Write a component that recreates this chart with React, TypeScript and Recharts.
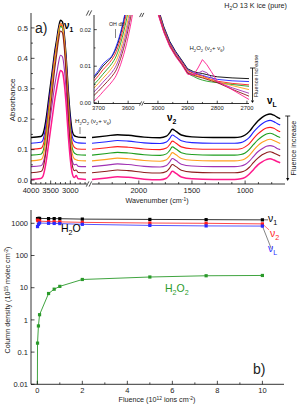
import React from "react";
import { LineChart, Line, XAxis, YAxis, ReferenceLine } from "recharts";

const FONT = "'Liberation Sans', Arial, Helvetica, sans-serif";
const INK = "#222";

// ---- panel a) main spectra, OH stretch side (cm-1) ----
const waveHi = [4000, 3750, 3700, 3650, 3600, 3550, 3500, 3450, 3400, 3350, 3300, 3250, 3200, 3150, 3100, 3050, 3000, 2950, 2900, 2850, 2800, 2600];
const blackHi = [0.140, 0.143, 0.150, 0.175, 0.216, 0.267, 0.317, 0.368, 0.419, 0.459, 0.500, 0.525, 0.520, 0.474, 0.393, 0.292, 0.211, 0.160, 0.146, 0.143, 0.141, 0.140];
const blueHi = [0.121, 0.124, 0.131, 0.157, 0.199, 0.251, 0.303, 0.354, 0.406, 0.448, 0.489, 0.515, 0.510, 0.463, 0.380, 0.277, 0.193, 0.142, 0.127, 0.124, 0.122, 0.121];
const redHi = [0.101, 0.104, 0.112, 0.139, 0.182, 0.236, 0.290, 0.343, 0.397, 0.440, 0.483, 0.510, 0.505, 0.456, 0.370, 0.263, 0.176, 0.123, 0.108, 0.104, 0.102, 0.101];
const greenHi = [0.082, 0.085, 0.093, 0.121, 0.165, 0.221, 0.277, 0.332, 0.388, 0.433, 0.477, 0.505, 0.500, 0.449, 0.360, 0.249, 0.160, 0.104, 0.089, 0.085, 0.083, 0.082];
const orangeHi = [0.063, 0.067, 0.075, 0.105, 0.152, 0.212, 0.271, 0.331, 0.390, 0.438, 0.485, 0.515, 0.509, 0.455, 0.360, 0.242, 0.146, 0.087, 0.070, 0.067, 0.064, 0.063];
const purpleHi = [0.044, 0.047, 0.054, 0.078, 0.116, 0.164, 0.213, 0.261, 0.309, 0.347, 0.386, 0.410, 0.405, 0.362, 0.285, 0.189, 0.111, 0.063, 0.050, 0.052, 0.045, 0.044];
const brownHi = [0.024, 0.028, 0.036, 0.067, 0.116, 0.177, 0.239, 0.300, 0.361, 0.410, 0.459, 0.490, 0.484, 0.428, 0.331, 0.208, 0.110, 0.049, 0.031, 0.033, 0.025, 0.024];
const pinkHi = [0.002, 0.005, 0.011, 0.035, 0.073, 0.120, 0.167, 0.214, 0.261, 0.299, 0.336, 0.360, 0.355, 0.313, 0.238, 0.143, 0.068, 0.021, 0.008, 0.015, 0.004, 0.002];

// ---- panel a) main spectra, bending / libration side ----
const waveLo = [2440, 2300, 2200, 2100, 1950, 1800, 1740, 1710, 1685, 1650, 1600, 1500, 1300, 1100, 1040, 1000, 960, 920, 880, 840, 800, 766, 730, 700, 670];
const blackLo = [0.140, 0.145, 0.149, 0.147, 0.141, 0.139, 0.144, 0.155, 0.167, 0.160, 0.148, 0.142, 0.140, 0.140, 0.142, 0.148, 0.160, 0.178, 0.194, 0.206, 0.214, 0.217, 0.213, 0.207, 0.202];
const blueLo = [0.121, 0.126, 0.130, 0.128, 0.122, 0.120, 0.125, 0.136, 0.148, 0.141, 0.129, 0.123, 0.121, 0.121, 0.123, 0.129, 0.140, 0.158, 0.173, 0.185, 0.193, 0.196, 0.192, 0.186, 0.181];
const redLo = [0.101, 0.106, 0.110, 0.108, 0.102, 0.100, 0.105, 0.116, 0.128, 0.121, 0.109, 0.103, 0.101, 0.101, 0.103, 0.109, 0.120, 0.137, 0.152, 0.163, 0.171, 0.173, 0.170, 0.164, 0.159];
const greenLo = [0.082, 0.087, 0.091, 0.089, 0.083, 0.081, 0.086, 0.097, 0.109, 0.102, 0.090, 0.084, 0.082, 0.082, 0.084, 0.089, 0.101, 0.117, 0.132, 0.143, 0.151, 0.154, 0.150, 0.144, 0.140];
const orangeLo = [0.063, 0.068, 0.072, 0.070, 0.064, 0.062, 0.067, 0.078, 0.090, 0.083, 0.071, 0.065, 0.063, 0.063, 0.065, 0.070, 0.081, 0.098, 0.113, 0.124, 0.131, 0.134, 0.130, 0.125, 0.120];
const purpleLo = [0.044, 0.049, 0.053, 0.051, 0.045, 0.043, 0.048, 0.059, 0.071, 0.064, 0.052, 0.046, 0.044, 0.044, 0.046, 0.051, 0.062, 0.078, 0.093, 0.103, 0.111, 0.113, 0.110, 0.104, 0.100];
const brownLo = [0.024, 0.029, 0.033, 0.031, 0.025, 0.023, 0.028, 0.039, 0.051, 0.044, 0.032, 0.026, 0.024, 0.024, 0.026, 0.031, 0.042, 0.058, 0.072, 0.083, 0.090, 0.093, 0.089, 0.084, 0.079];
const pinkLo = [0.002, 0.007, 0.011, 0.009, 0.003, 0.001, 0.006, 0.017, 0.029, 0.022, 0.010, 0.004, 0.002, 0.002, 0.004, 0.009, 0.020, 0.035, 0.050, 0.060, 0.067, 0.070, 0.066, 0.061, 0.057];

// ---- inset (zoom on 3700-2700 cm-1) ----
const insetWaveL = [3715, 3700, 3685, 3670, 3655, 3640, 3620, 3600, 3580, 3560];
const blackInL = [0.0068, 0.0083, 0.0100, 0.0112, 0.0126, 0.0150, 0.0205, 0.0285, 0.039, 0.054];
const blueInL = [0.0072, 0.0088, 0.0106, 0.0117, 0.0128, 0.0155, 0.0210, 0.0290, 0.040, 0.055];
const redInL = [0.0060, 0.0074, 0.0090, 0.0103, 0.0118, 0.0140, 0.0192, 0.0270, 0.037, 0.052];
const greenInL = [0.0050, 0.0063, 0.0078, 0.0092, 0.0107, 0.0128, 0.0178, 0.0250, 0.035, 0.050];
const orangeInL = [0.0040, 0.0053, 0.0067, 0.0080, 0.0095, 0.0115, 0.0162, 0.0230, 0.033, 0.048];
const purpleInL = [0.0030, 0.0042, 0.0056, 0.0069, 0.0083, 0.0102, 0.0148, 0.0215, 0.031, 0.046];
const brownInL = [0.0020, 0.0032, 0.0045, 0.0058, 0.0072, 0.0090, 0.0135, 0.0200, 0.029, 0.044];
const pinkInL = [0.0005, 0.0016, 0.0030, 0.0043, 0.0057, 0.0075, 0.0118, 0.0180, 0.027, 0.041];

const insetWaveR = [3047, 3020, 3000, 2980, 2960, 2940, 2920, 2900, 2880, 2865, 2850, 2835, 2820, 2800, 2750, 2693];
const blackInR = [0.050, 0.033, 0.026, 0.0208, 0.0168, 0.0140, 0.0117, 0.0093, 0.0085, 0.0082, 0.0080, 0.0077, 0.0074, 0.0071, 0.0068, 0.0066];
const blueInR = [0.050, 0.033, 0.0258, 0.0205, 0.0165, 0.0137, 0.0114, 0.0090, 0.0082, 0.0078, 0.0075, 0.0071, 0.0068, 0.0064, 0.0060, 0.0058];
const redInR = [0.049, 0.0325, 0.0255, 0.0202, 0.0162, 0.0134, 0.0112, 0.0088, 0.0080, 0.0076, 0.0073, 0.0068, 0.0064, 0.0059, 0.0053, 0.0049];
const greenInR = [0.049, 0.032, 0.025, 0.0198, 0.0158, 0.0130, 0.0107, 0.0080, 0.0072, 0.0066, 0.0062, 0.0059, 0.0057, 0.0055, 0.0050, 0.0045];
const orangeInR = [0.048, 0.032, 0.025, 0.0198, 0.0158, 0.0131, 0.0109, 0.0085, 0.0077, 0.0073, 0.0070, 0.0066, 0.0062, 0.0057, 0.0047, 0.0036];
const purpleInR = [0.048, 0.0315, 0.0248, 0.0196, 0.0157, 0.0130, 0.0108, 0.0083, 0.0077, 0.0081, 0.0087, 0.0082, 0.0070, 0.0056, 0.0041, 0.0026];
const brownInR = [0.047, 0.031, 0.0245, 0.0194, 0.0155, 0.0128, 0.0106, 0.0081, 0.0075, 0.0071, 0.0068, 0.0064, 0.0060, 0.0055, 0.0037, 0.0018];
const pinkInR = [0.047, 0.031, 0.0243, 0.0192, 0.0153, 0.0126, 0.0104, 0.0078, 0.0076, 0.0095, 0.0118, 0.0104, 0.0085, 0.0059, 0.0036, 0.0009];

// ---- panel b) column densities vs fluence ----
const fluence = [0.01, 0.05, 0.1, 0.5, 0.75, 1, 2, 5, 7.5, 10];
const colNu1 = [1400, 1420, 1420, 1400, 1400, 1390, 1350, 1320, 1300, 1280];
const colNu2 = [1250, 1180, 1170, 1130, 1120, 1110, 1070, 1020, 1000, 960];
const colNuL = [790, 930, 1020, 1000, 990, 980, 930, 860, 830, 820];
const fluenceH2O2 = [0, 0.01, 0.05, 0.1, 0.5, 0.75, 1, 2, 5, 7.5, 10];
const colH2O2 = [0.001, 0.19, 0.65, 1.45, 6.6, 9.0, 11, 18, 21.5, 23.5, 24];

const series = [
  { name: "black", color: "#000000", w: 1.4, hi: blackHi, lo: blackLo, inL: blackInL, inR: blackInR },
  { name: "blue", color: "#2222ff", w: 1.1, hi: blueHi, lo: blueLo, inL: blueInL, inR: blueInR },
  { name: "red", color: "#ff1c1c", w: 1.1, hi: redHi, lo: redLo, inL: redInL, inR: redInR },
  { name: "green", color: "#1e9e1e", w: 1.1, hi: greenHi, lo: greenLo, inL: greenInL, inR: greenInR },
  { name: "orange", color: "#ffa020", w: 1.1, hi: orangeHi, lo: orangeLo, inL: orangeInL, inR: orangeInR },
  { name: "purple", color: "#a032b4", w: 1.1, hi: purpleHi, lo: purpleLo, inL: purpleInL, inR: purpleInR },
  { name: "brown", color: "#8e1c1c", w: 1.1, hi: brownHi, lo: brownLo, inL: brownInL, inR: brownInR },
  { name: "pink", color: "#ff1a8c", w: 1.5, hi: pinkHi, lo: pinkLo, inL: pinkInL, inR: pinkInR },
];

const pts = (xs: number[], ys: number[]) => xs.map((x, i) => ({ x, y: ys[i] }));
const steps = (from: number, to: number, step: number) => {
  const out: number[] = [];
  for (let v = from; v <= to + 1e-9; v += step) out.push(Math.round(v * 10000) / 10000);
  return out;
};

const AX = { stroke: "#000", strokeWidth: 0.8 };

// inward ticks drawn by hand so that majors/minors differ
function mkTick(side: string, isMajor: (v: number) => boolean, fmt: ((v: number) => string) | null, fs: number, len: number) {
  return (p: any) => {
    const { x, y, payload } = p;
    const v = payload.value;
    const maj = isMajor(v);
    const L = maj ? len : len * 0.55;
    let ln = null;
    let tx = null;
    if (side === "bottom") {
      ln = <line x1={x} x2={x} y1={y} y2={y - L} stroke="#000" strokeWidth={0.7} />;
      if (maj && fmt) tx = <text x={x} y={y + fs + 1} textAnchor="middle" fontSize={fs} fontFamily={FONT} fill={INK}>{fmt(v)}</text>;
    } else if (side === "top") {
      ln = <line x1={x} x2={x} y1={y} y2={y + L} stroke="#000" strokeWidth={0.7} />;
    } else if (side === "left") {
      ln = <line x1={x} x2={x + L} y1={y} y2={y} stroke="#000" strokeWidth={0.7} />;
      if (maj && fmt) tx = <text x={x - 3} y={y + fs * 0.35} textAnchor="end" fontSize={fs} fontFamily={FONT} fill={INK}>{fmt(v)}</text>;
    } else {
      ln = <line x1={x} x2={x - L} y1={y} y2={y} stroke="#000" strokeWidth={0.7} />;
    }
    return <g>{ln}{tx}</g>;
  };
}

const maj500 = (v: number) => v % 500 === 0;
const maj100 = (v: number) => v % 100 === 0;
const majAbs = (v: number) => Math.round(v * 100) % 10 === 0;
const majIn = (v: number) => Math.round(v * 1000) % 10 === 0;

const ticksHiMain = steps(2625, 4000, 125);
const ticksLoMain = steps(750, 2375, 125);
const absTicks = steps(0, 0.5, 0.05);
const inTicksL = steps(3600, 3700, 50);
const inTicksR = steps(2700, 3000, 50);
const inYTicks = steps(0, 0.02, 0.005);

const axisCommon = { type: "number" as const, allowDataOverflow: true, interval: 0 as const, tickSize: 0, tickMargin: 0, tickLine: false, axisLine: AX };

function Rich({ x, y, parts, fs, fill = INK, weight, anchor = "start", transform }: any) {
  let lvl = 0;
  return (
    <text x={x} y={y} fontSize={fs} fill={fill} fontWeight={weight} textAnchor={anchor} fontFamily={FONT} transform={transform}>
      {parts.map((p: [string, number], i: number) => {
        const dy = (p[1] - lvl) * fs * 0.32;
        lvl = p[1];
        return <tspan key={i} dy={dy} fontSize={p[1] ? fs * 0.68 : fs}>{p[0]}</tspan>;
      })}
    </text>
  );
}

function SpecLines({ k, wave }: { k: "hi" | "lo" | "inL" | "inR"; wave: number[] }) {
  return null;
}

function MainLeft() {
  return (
    <LineChart width={89} height={196} margin={{ top: 13, right: 0, bottom: 0, left: 0 }}>
      <XAxis {...axisCommon} dataKey="x" domain={[2525, 4000]} reversed ticks={ticksHiMain} height={12} tick={mkTick("bottom", maj500, (v) => String(v), 7.5, 3.5)} />
      <XAxis {...axisCommon} xAxisId="top" orientation="top" domain={[2525, 4000]} reversed ticks={ticksHiMain} height={0} tick={mkTick("top", maj500, null, 7.5, 3.5)} />
      <YAxis {...axisCommon} domain={[-0.013, 0.549]} width={31} ticks={absTicks} tick={mkTick("left", majAbs, (v) => v.toFixed(1), 7.5, 3.5)} />
      {series.map((s) => (
        <Line key={s.name} data={pts(waveHi, s.hi)} dataKey="y" type="monotone" stroke={s.color} strokeWidth={s.w} dot={false} isAnimationActive={false} />
      ))}
    </LineChart>
  );
}

function MainRight() {
  return (
    <LineChart width={207} height={196} margin={{ top: 13, right: 14, bottom: 0, left: 0 }}>
      <XAxis {...axisCommon} dataKey="x" domain={[625, 2440]} reversed ticks={ticksLoMain} height={12} tick={mkTick("bottom", maj500, (v) => String(v), 7.5, 3.5)} />
      <XAxis {...axisCommon} xAxisId="top" orientation="top" domain={[625, 2440]} reversed ticks={ticksLoMain} height={0} tick={mkTick("top", maj500, null, 7.5, 3.5)} />
      <YAxis {...axisCommon} domain={[-0.013, 0.549]} hide />
      <YAxis {...axisCommon} yAxisId="r" orientation="right" domain={[-0.013, 0.549]} width={0} ticks={absTicks} tick={mkTick("right", majAbs, null, 7.5, 3.5)} />
      {series.map((s) => (
        <Line key={s.name} data={pts(waveLo, s.lo)} dataKey="y" type="monotone" stroke={s.color} strokeWidth={s.w} dot={false} isAnimationActive={false} />
      ))}
    </LineChart>
  );
}

const IN_DOM: [number, number] = [-0.0002, 0.024];

function InsetLeft() {
  return (
    <LineChart width={76} height={108.5} margin={{ top: 10, right: 0, bottom: 0, left: 0 }}>
      <XAxis {...axisCommon} dataKey="x" domain={[3560, 3715]} reversed ticks={inTicksL} height={10} tick={mkTick("bottom", maj100, (v) => String(v), 5.8, 2.8)} />
      <XAxis {...axisCommon} xAxisId="top" orientation="top" domain={[3560, 3715]} reversed ticks={inTicksL} height={0} tick={mkTick("top", maj100, null, 5.8, 2.8)} />
      <YAxis {...axisCommon} domain={IN_DOM} width={30} ticks={inYTicks} tick={mkTick("left", majIn, (v) => v.toFixed(2), 5.8, 2.8)} />
      {series.map((s) => (
        <Line key={s.name} data={pts(insetWaveL, s.inL)} dataKey="y" type="monotone" stroke={s.color} strokeWidth={0.9} dot={false} isAnimationActive={false} />
      ))}
    </LineChart>
  );
}

function InsetRight() {
  return (
    <LineChart width={115} height={108.5} margin={{ top: 10, right: 10, bottom: 0, left: 0 }}>
      <XAxis {...axisCommon} dataKey="x" domain={[2693, 3047]} reversed ticks={inTicksR} height={10} tick={mkTick("bottom", maj100, (v) => String(v), 5.8, 2.8)} />
      <XAxis {...axisCommon} xAxisId="top" orientation="top" domain={[2693, 3047]} reversed ticks={inTicksR} height={0} tick={mkTick("top", maj100, null, 5.8, 2.8)} />
      <YAxis {...axisCommon} domain={IN_DOM} hide />
      <YAxis {...axisCommon} yAxisId="r" orientation="right" domain={IN_DOM} width={0} ticks={inYTicks} tick={mkTick("right", majIn, null, 5.8, 2.8)} />
      {series.map((s) => (
        <Line key={s.name} data={pts(insetWaveR, s.inR)} dataKey="y" type="linear" stroke={s.color} strokeWidth={0.9} dot={false} isAnimationActive={false} />
      ))}
    </LineChart>
  );
}

const square = (color: string, min: number) => (p: any) => {
  if (p.payload == null || p.payload.y < min) return <g key={`d${p.index}`} />;
  return <rect key={`d${p.index}`} x={p.cx - 1.6} y={p.cy - 1.6} width={3.2} height={3.2} fill={color} />;
};

const logTicks = [0.01, 0.1, 1, 10, 100, 1000];

function ColumnPanel() {
  return (
    <LineChart width={299} height={211} margin={{ top: 15, right: 15, bottom: 10, left: 0 }}>
      <XAxis {...axisCommon} dataKey="x" domain={[-0.28, 10.96]} ticks={steps(0, 10, 1)} height={11.7} tick={mkTick("bottom", (v) => v % 2 === 0, (v) => String(v), 7.5, 3.5)} />
      <XAxis {...axisCommon} xAxisId="top" orientation="top" domain={[-0.28, 10.96]} ticks={[]} height={0} />
      <YAxis {...axisCommon} scale="log" domain={[0.01, 2590]} width={31} ticks={logTicks} tick={mkTick("left", () => true, (v) => String(v), 7.5, 3.5)} />
      <YAxis {...axisCommon} yAxisId="r" orientation="right" scale="log" domain={[0.01, 2590]} width={0} ticks={[]} />
      <Line data={pts(fluence, colNu1)} dataKey="y" type="linear" stroke="#000" strokeWidth={0.8} dot={square("#000", 0.01)} isAnimationActive={false} />
      <Line data={pts(fluence, colNu2)} dataKey="y" type="linear" stroke="#ff1c1c" strokeWidth={0.8} dot={square("#ff1c1c", 0.01)} isAnimationActive={false} />
      <Line data={pts(fluence, colNuL)} dataKey="y" type="linear" stroke="#2a2aff" strokeWidth={0.8} dot={square("#2a2aff", 0.01)} isAnimationActive={false} />
      <Line data={pts(fluenceH2O2, colH2O2)} dataKey="y" type="linear" stroke="#2a9a2a" strokeWidth={0.9} dot={square("#2a9a2a", 0.01)} isAnimationActive={false} />
      <ReferenceLine segment={[{ x: 10, y: 1280 }, { x: 10.25, y: 1280 }]} stroke="#000" strokeWidth={0.6} ifOverflow="visible" />
      <ReferenceLine segment={[{ x: 10, y: 960 }, { x: 10.3, y: 620 }]} stroke="#ff1c1c" strokeWidth={0.6} ifOverflow="visible" />
      <ReferenceLine segment={[{ x: 10, y: 820 }, { x: 10.4, y: 160 }]} stroke="#333" strokeWidth={0.6} ifOverflow="visible" />
    </LineChart>
  );
}

function BreakMark({ x, y, s = 1 }: { x: number; y: number; s?: number }) {
  return (
    <g stroke="#000" strokeWidth={0.7}>
      <rect x={x - 0.5} y={y - 2.5 * s} width={3.5 * s} height={5 * s} fill="#fff" stroke="none" />
      <line x1={x - 1.2 * s} y1={y + 2.6 * s} x2={x + 1.4 * s} y2={y - 2.6 * s} />
      <line x1={x + 1.6 * s} y1={y + 2.6 * s} x2={x + 4.2 * s} y2={y - 2.6 * s} />
    </g>
  );
}

function Arrow({ x, y1, y2, head = 3 }: { x: number; y1: number; y2: number; head?: number }) {
  return (
    <g>
      <line x1={x - 2.5} x2={x + 2.5} y1={y1} y2={y1} stroke="#000" strokeWidth={0.8} />
      <line x1={x} x2={x} y1={y1} y2={y2 - head} stroke="#000" strokeWidth={0.8} />
      <path d={`M${x - 1.6},${y2 - head} L${x + 1.6},${y2 - head} L${x},${y2} Z`} fill="#000" />
    </g>
  );
}

function Overlay() {
  return (
    <svg width={299} height={406} style={{ position: "absolute", left: 0, top: 0, pointerEvents: "none" }}>
      <Rich x={287} y={8} fs={7.2} anchor="end" parts={[["H", 0], ["2", 1], ["O 13 K ice (pure)", 0]]} />
      <text x={35} y={33} fontSize={14} fontFamily={FONT} fill={INK}>a)</text>
      <Rich x={64} y={29} fs={10} weight="bold" fill="#000" parts={[["ν", 0], ["1", 1]]} />
      <Rich x={167} y={121} fs={10} weight="bold" fill="#000" parts={[["ν", 0], ["2", 1]]} />
      <Rich x={267} y={104} fs={10} weight="bold" fill="#000" parts={[["ν", 0], ["L", 1]]} />
      <text transform="translate(15,100) rotate(-90)" textAnchor="middle" fontSize={8} fontFamily={FONT} fill={INK}>Absorbance</text>
      <Rich x={157} y={203} fs={7.2} anchor="middle" parts={[["Wavenumber (cm", 0], ["-1", -1], [")", 0]]} />
      <Rich x={75} y={123} fs={6.2} parts={[["H", 0], ["2", 1], ["O", 0], ["2", 1], [" (ν", 0], ["2", 1], ["+ ν", 0], ["6", 1], [")", 0]]} />
      <line x1={80} x2={80} y1={127} y2={134} stroke="#333" strokeWidth={0.6} />
      <BreakMark x={87.5} y={184} />
      <BreakMark x={87.5} y={13} />
      <Arrow x={287.7} y1={116} y2={181} />
      <text transform="translate(295.5,148) rotate(-90)" textAnchor="middle" fontSize={7.2} fontFamily={FONT} fill={INK}>Fluence increase</text>

      {/* inset annotations */}
      <text x={109} y={26} fontSize={5.3} fontFamily={FONT} fill={INK}>OH db</text>
      <line x1={115.5} x2={115.5} y1={29} y2={38} stroke="#333" strokeWidth={0.6} />
      <Rich x={207} y={50} fs={6} anchor="middle" parts={[["H", 0], ["2", 1], ["O", 0], ["2", 1], [" (ν", 0], ["2", 1], ["+ ν", 0], ["6", 1], [")", 0]]} />
      <BreakMark x={140.5} y={103.5} s={0.8} />
      <BreakMark x={140.5} y={15} s={0.8} />
      <Arrow x={252.5} y1={68} y2={103} head={2.5} />
      <text transform="translate(258,76) rotate(-90)" textAnchor="middle" fontSize={5.6} fontFamily={FONT} fill={INK}>Fluence increase</text>

      {/* panel b */}
      <Rich x={0} y={0} fs={7.2} anchor="middle" transform="translate(10,300) rotate(-90)" parts={[["Column density (10", 0], ["15", -1], [" molec cm", 0], ["-2", -1], [")", 0]]} />
      <Rich x={157} y={402} fs={7.2} anchor="middle" parts={[["Fluence (10", 0], ["12", -1], [" ions cm", 0], ["-2", -1], [")", 0]]} />
      <Rich x={61} y={232} fs={10.5} fill="#000" parts={[["H", 0], ["2", 1], ["O", 0]]} />
      <Rich x={165} y={292} fs={10.5} fill="#2a9a2a" parts={[["H", 0], ["2", 1], ["O", 0], ["2", 1]]} />
      <text x={253} y={374} fontSize={14} fontFamily={FONT} fill={INK}>b)</text>
      <Rich x={268} y={222} fs={10.5} fill="#000" parts={[["ν", 0], ["1", 1]]} />
      <Rich x={270} y={237} fs={10.5} fill="#ff1c1c" parts={[["ν", 0], ["2", 1]]} />
      <Rich x={268} y={252} fs={10.5} fill="#2a2aff" parts={[["ν", 0], ["L", 1]]} />
    </svg>
  );
}

export default function App() {
  return (
    <div style={{ position: "relative", width: 299, height: 406, background: "#fff", overflow: "hidden", fontFamily: FONT }}>
      <style>{"body{margin:0}"}</style>
      <div style={{ position: "absolute", left: 0, top: 0 }}><MainLeft /></div>
      <div style={{ position: "absolute", left: 92, top: 0 }}><MainRight /></div>
      <div style={{ position: "absolute", left: 64, top: 5 }}><InsetLeft /></div>
      <div style={{ position: "absolute", left: 144, top: 5 }}><InsetRight /></div>
      <div style={{ position: "absolute", left: 0, top: 195 }}><ColumnPanel /></div>
      <Overlay />
    </div>
  );
}
